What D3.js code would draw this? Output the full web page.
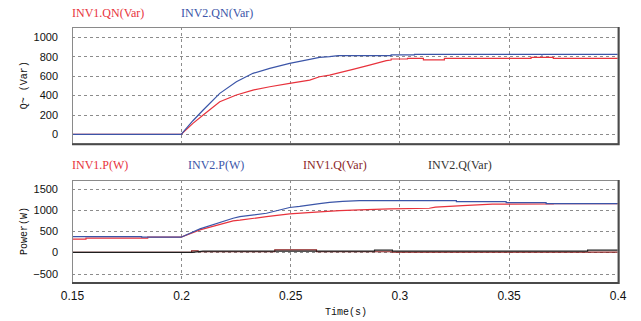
<!DOCTYPE html>
<html>
<head>
<meta charset="utf-8">
<script src="https://cdn.jsdelivr.net/npm/d3@7"></script>
<style>
  body { margin: 0; background: #fff; }
  svg { display: block; }
</style>
</head>
<body>
<div id="chart"></div>
<script>
// ---- data ----
const timeTicks = [0.15, 0.2, 0.25, 0.3, 0.35, 0.4];
const qTicks = [0, 200, 400, 600, 800, 1000];
const pTicks = [-500, 0, 500, 1000, 1500];

// top panel: INV1.QN / INV2.QN
const tQN1 = [0.15, 0.2, 0.2054, 0.2101, 0.2177, 0.2253, 0.2329, 0.2406, 0.2497, 0.2589, 0.2634, 0.268, 0.2787, 0.2863, 0.294, 0.2962, 0.2962, 0.3037, 0.3037, 0.311, 0.311, 0.3206, 0.3206, 0.3603, 0.3603, 0.3705, 0.3705, 0.4];
const qn1  = [0, 0, 113, 198, 335, 404, 455, 489, 524, 558, 592, 609, 668, 712, 757, 764, 774, 774, 781, 781, 766, 766, 781, 781, 790, 790, 780, 780];
const tQN2 = [0.15, 0.2, 0.2054, 0.2101, 0.2177, 0.2253, 0.2329, 0.2406, 0.2497, 0.2589, 0.2634, 0.268, 0.272, 0.2962, 0.2962, 0.3069, 0.3069, 0.365, 0.3653, 0.3656, 0.4];
const qn2  = [0, 0, 140, 250, 421, 541, 627, 678, 730, 771, 791, 798, 808, 808, 816, 816, 822, 822, 814, 822, 822];

// bottom panel: INV1.P / INV2.P / INV1.Q / INV2.Q
const tP1 = [0.15, 0.1564, 0.1564, 0.1847, 0.1847, 0.2, 0.2086, 0.2238, 0.2269, 0.2391, 0.2497, 0.2634, 0.2726, 0.2817, 0.2955, 0.3137, 0.3165, 0.329, 0.3426, 0.3705, 0.3705, 0.4];
const p1  = [311, 311, 335, 335, 359, 359, 531, 744, 760, 846, 909, 955, 985, 1003, 1027, 1043, 1067, 1105, 1138, 1145, 1152, 1152];
const tP2 = [0.15, 0.1819, 0.1819, 0.2, 0.2086, 0.2238, 0.2269, 0.2391, 0.2497, 0.2543, 0.2634, 0.268, 0.274, 0.2817, 0.3261, 0.3261, 0.3489, 0.3489, 0.3672, 0.3672, 0.4];
const p2  = [373, 373, 359, 359, 555, 807, 846, 925, 1060, 1085, 1150, 1180, 1205, 1225, 1225, 1200, 1200, 1176, 1176, 1152, 1152];
const tQ1 = [0.15, 0.2048, 0.2048, 0.2078, 0.2078, 0.2429, 0.2429, 0.262, 0.262, 0.2968, 0.2968, 0.4];
const q1  = [0, 0, 35, 35, 15, 15, 60, 60, 15, 15, 5, 5];
const tQ2 = [0.15, 0.2, 0.205, 0.21, 0.2886, 0.2886, 0.2968, 0.2968, 0.3862, 0.3862, 0.4];
const q2  = [0, 0, 0, 30, 30, 55, 55, 30, 30, 55, 55];

const RED = "#e8323c", BLUE = "#3b55a8", DRED = "#8b1f1f", BLACK = "#1e1e1e";

const W = 641, H = 321;
const svg = d3.select("#chart").append("svg")
  .attr("width", W).attr("height", H);
svg.append("rect").attr("width", W).attr("height", H).attr("fill", "#fff");

const x = d3.scaleLinear().domain([0.15, 0.4]).range([72, 617.7]);
const yTop = d3.scaleLinear().domain([-92, 1103]).range([143.3, 27]);
const yBot = d3.scaleLinear().domain([-700, 1710]).range([282, 180]);

function panel(y, ticks, title) {
  const [x0, x1] = x.range();
  const [yb, yt] = y.range();
  const g = svg.append("g");

  // dashed grid
  g.selectAll(".hg").data(ticks).join("line")
    .attr("x1", x0).attr("x2", x1)
    .attr("y1", d => Math.round(y(d)) + 0.5).attr("y2", d => Math.round(y(d)) + 0.5)
    .attr("stroke", "#8c8c8c").attr("stroke-dasharray", "3,3");
  g.selectAll(".vg").data(timeTicks.slice(1, -1)).join("line")
    .attr("x1", d => Math.round(x(d)) + 0.5).attr("x2", d => Math.round(x(d)) + 0.5)
    .attr("y1", yt).attr("y2", yb)
    .attr("stroke", "#8c8c8c").attr("stroke-dasharray", "3,3");

  // y axis labels (no tick marks)
  const ax = g.append("g").attr("transform", `translate(${x0},0)`)
    .call(d3.axisLeft(y).tickValues(ticks).tickFormat(d3.format("d")).tickSize(0).tickPadding(14));
  ax.select(".domain").remove();
  ax.selectAll("text").attr("font-family", "Liberation Sans, Arial, sans-serif")
    .attr("font-size", 11).attr("fill", "#111");

  g.append("text")
    .attr("transform", `translate(27,${(yt + yb) / 2}) rotate(-90)`)
    .attr("text-anchor", "middle")
    .attr("font-family", "Liberation Mono, monospace").attr("font-size", 10)
    .attr("fill", "#111").text(title);
  return g;
}

function frame(y) {
  const [x0, x1] = x.range();
  const [yb, yt] = y.range();
  svg.append("rect").attr("x", x0 + 0.5).attr("y", yt + 0.5)
    .attr("width", x1 - x0).attr("height", yb - yt)
    .attr("fill", "none").attr("stroke", "#8a8a8a");
  svg.append("path")
    .attr("d", `M${x1 + 1},${yt} V${yb + 1} H${x0}`)
    .attr("fill", "none").attr("stroke", "#4a4a4a").attr("stroke-width", 2);
}

function series(y, ts, vs, color) {
  const pts = ts.map((t, i) => [t, vs[i]]);
  svg.append("path").datum(pts)
    .attr("fill", "none").attr("stroke", color).attr("stroke-width", 1.2)
    .attr("d", d3.line().x(d => x(d[0])).y(d => y(d[1])));
}

function legend(items, yPos) {
  svg.selectAll(null).data(items).join("text")
    .attr("x", d => d[1]).attr("y", yPos)
    .attr("font-family", "Liberation Serif, serif").attr("font-size", 12)
    .attr("fill", d => d[2]).text(d => d[0]);
}

// top panel
panel(yTop, qTicks, "Q~ (Var)");
series(yTop, tQN1, qn1, RED);
series(yTop, tQN2, qn2, BLUE);
frame(yTop);
legend([["INV1.QN(Var)", 72, RED], ["INV2.QN(Var)", 181, BLUE]], 17);

// bottom panel
panel(yBot, pTicks, "Power(W)");
series(yBot, tQ1, q1, DRED);
series(yBot, tQ2, q2, BLACK);
series(yBot, tP1, p1, RED);
series(yBot, tP2, p2, BLUE);
frame(yBot);
legend([["INV1.P(W)", 72, RED], ["INV2.P(W)", 188, BLUE],
        ["INV1.Q(Var)", 303, DRED], ["INV2.Q(Var)", 428, "#333"]], 169);

// x axis
const xa = svg.append("g").attr("transform", `translate(0,${yBot.range()[0]})`)
  .call(d3.axisBottom(x).tickValues(timeTicks).tickFormat(d3.format("")).tickSize(0).tickPadding(9));
xa.select(".domain").remove();
xa.selectAll("text").attr("font-family", "Liberation Sans, Arial, sans-serif")
  .attr("font-size", 12).attr("fill", "#111");

svg.append("text").attr("x", 346).attr("y", 315)
  .attr("text-anchor", "middle")
  .attr("font-family", "Liberation Mono, monospace").attr("font-size", 10)
  .attr("fill", "#111").text("Time(s)");
</script>
</body>
</html>
